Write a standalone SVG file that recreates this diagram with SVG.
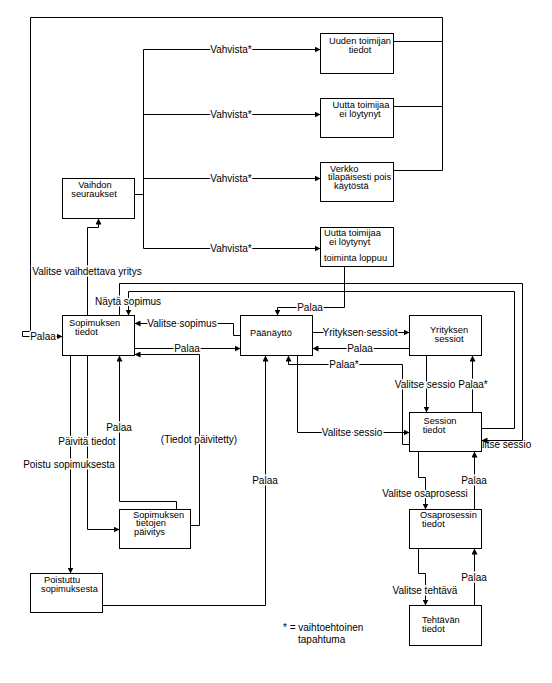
<svg xmlns="http://www.w3.org/2000/svg" width="552" height="683" viewBox="0 0 552 683">
<style>
.b{fill:#fff;stroke:#000;stroke-width:1}
.c{fill:none;stroke:#000;stroke-width:1}
text{font-family:"Liberation Sans",Arial,sans-serif;font-size:10px;fill:#000}
.n text{font-size:9.3px}
.l{text-anchor:middle;stroke:#fff;stroke-width:3;paint-order:stroke;stroke-linejoin:round}
.m{text-anchor:middle}
</style>
<defs>
<marker id="a" viewBox="0 0 10 10" refX="10" refY="5" markerWidth="6" markerHeight="6" markerUnits="userSpaceOnUse" orient="auto">
<path d="M0,0 L10,5 L0,10 z" fill="#000"/>
</marker>
</defs>
<rect width="552" height="683" fill="#fff"/>
<g id="connectors" transform="translate(0.5,0.5)">
<path class="c" d="M393,41 H442 M393,106 H442 M393,170 H442"/>
<path class="c" d="M442,170 V17 H30 V331 H22 V336 H62" marker-end="url(#a)"/>
<path class="c" d="M134,194 H143 M143,49 V248"/>
<path class="c" d="M143,49 H320" marker-end="url(#a)"/>
<path class="c" d="M143,114 H320" marker-end="url(#a)"/>
<path class="c" d="M143,178 H320" marker-end="url(#a)"/>
<path class="c" d="M143,248 H320" marker-end="url(#a)"/>
<path class="c" d="M87,315 V227 H98 V218" marker-end="url(#a)"/>
<path class="c" d="M481,428 H514 V291 H128 V315" marker-end="url(#a)"/>
<path class="c" d="M119,315 V283 H522 V440 H481" marker-end="url(#a)"/>
<path class="c" d="M240,335 H233 V323 H134" marker-end="url(#a)"/>
<path class="c" d="M134,348 H240" marker-end="url(#a)"/>
<path class="c" d="M190,525 H199 V354 H134" marker-end="url(#a)"/>
<path class="c" d="M176,509 V501 H119 V355" marker-end="url(#a)"/>
<path class="c" d="M87,355 V529 H119" marker-end="url(#a)"/>
<path class="c" d="M70,355 V573" marker-end="url(#a)"/>
<path class="c" d="M102,605 H265 V355" marker-end="url(#a)"/>
<path class="c" d="M344,266 V307 H277 V315" marker-end="url(#a)"/>
<path class="c" d="M312,332 H409" marker-end="url(#a)"/>
<path class="c" d="M409,348 H312" marker-end="url(#a)"/>
<path class="c" d="M409,444 H402 V364 H288 V355" marker-end="url(#a)"/>
<path class="c" d="M297,355 V432 H409" marker-end="url(#a)"/>
<path class="c" d="M426,355 V412" marker-end="url(#a)"/>
<path class="c" d="M472,412 V355" marker-end="url(#a)"/>
<path class="c" d="M418,451 V477 H425 V509" marker-end="url(#a)"/>
<path class="c" d="M474,509 V451" marker-end="url(#a)"/>
<path class="c" d="M418,548 V573 H425 V605" marker-end="url(#a)"/>
<path class="c" d="M474,605 V548" marker-end="url(#a)"/>
</g>
<g id="labels">
<text class="l" x="43" y="339.5">Palaa</text>
<text class="l" x="231" y="52.5">Vahvista*</text>
<text class="l" x="231" y="117.5">Vahvista*</text>
<text class="l" x="231" y="181.5">Vahvista*</text>
<text class="l" x="231" y="251.5">Vahvista*</text>
<text class="l" x="87" y="274.5">Valitse vaihdettava yritys</text>
<text class="l" x="128" y="305">Näytä sopimus</text>
<text class="m" x="501" y="448">Valitse sessio</text>
<text class="l" x="182" y="326.5">Valitse sopimus</text>
<text class="l" x="187" y="351.5">Palaa</text>
<text class="l" x="199" y="443">(Tiedot päivitetty)</text>
<text class="l" x="119" y="431">Palaa</text>
<text class="l" x="87" y="445">Päivitä tiedot</text>
<text class="l" x="69" y="468">Poistu sopimuksesta</text>
<text class="l" x="265" y="484">Palaa</text>
<text class="l" x="310" y="310.5">Palaa</text>
<text class="l" x="360" y="335.5">Yrityksen sessiot</text>
<text class="l" x="360" y="351.5">Palaa</text>
<text class="l" x="344" y="367.5">Palaa*</text>
<text class="l" x="352" y="435.5">Valitse sessio</text>
<text class="l" x="425" y="387.5">Valitse sessio</text>
<text class="l" x="473" y="387.5">Palaa*</text>
<text class="l" x="425" y="496.5">Valitse osaprosessi</text>
<text class="l" x="474" y="483.5">Palaa</text>
<text class="l" x="425" y="593.5">Valitse tehtävä</text>
<text class="l" x="474" y="580.5">Palaa</text>
</g>
<g class="n">
<g id="uuden-toimijan-tiedot">
<rect class="b" x="320.5" y="33.5" width="73" height="40"/>
<text class="m" x="360" y="43.5">Uuden toimijan</text>
<text class="m" x="360" y="52.5">tiedot</text>
</g>
<g id="uutta-toimijaa-ei-loytynyt">
<rect class="b" x="320.5" y="98.5" width="73" height="39"/>
<text class="m" x="361" y="107.5">Uutta toimijaa</text>
<text class="m" x="360" y="116.5">ei löytynyt</text>
</g>
<g id="verkko-pois-kaytosta">
<rect class="b" x="320.5" y="162.5" width="73" height="39"/>
<text x="330" y="171.5">Verkko</text>
<text x="328" y="180">tilapäisesti pois</text>
<text x="334" y="188.5">käytöstä</text>
</g>
<g id="toiminta-loppuu">
<rect class="b" x="320.5" y="227.5" width="73" height="39"/>
<text x="324" y="235.5">Uutta toimijaa</text>
<text x="329" y="244.5">ei löytynyt</text>
<text x="324" y="261">toiminta loppuu</text>
</g>
<g id="vaihdon-seuraukset">
<rect class="b" x="62.5" y="178.5" width="72" height="40"/>
<text class="m" x="95" y="187.5">Vaihdon</text>
<text class="m" x="94" y="197">seuraukset</text>
</g>
<g id="sopimuksen-tiedot">
<rect class="b" x="62.5" y="315.5" width="72" height="40"/>
<text x="69" y="325.5">Sopimuksen</text>
<text x="75" y="334.5">tiedot</text>
</g>
<g id="paanaytto">
<rect class="b" x="240.5" y="315.5" width="72" height="40"/>
<text x="250" y="336">Päänäyttö</text>
</g>
<g id="yrityksen-sessiot">
<rect class="b" x="409.5" y="315.5" width="72" height="40"/>
<text class="m" x="449" y="333">Yrityksen</text>
<text class="m" x="449" y="342">sessiot</text>
</g>
<g id="session-tiedot">
<rect class="b" x="409.5" y="412.5" width="72" height="39"/>
<text class="m" x="440" y="423.5">Session</text>
<text class="m" x="434" y="432.5">tiedot</text>
</g>
<g id="osaprosessin-tiedot">
<rect class="b" x="409.5" y="509.5" width="72" height="39"/>
<text x="420" y="517.5">Osaprosessin</text>
<text x="422" y="526.5">tiedot</text>
</g>
<g id="tehtavan-tiedot">
<rect class="b" x="409.5" y="605.5" width="72" height="40"/>
<text x="422" y="622.5">Tehtävän</text>
<text x="422" y="631.5">tiedot</text>
</g>
<g id="sopimuksen-tietojen-paivitys">
<rect class="b" x="119.5" y="509.5" width="71" height="39"/>
<text x="133" y="517.5">Sopimuksen</text>
<text x="136" y="526">tietojen</text>
<text x="134" y="534.5">päivitys</text>
</g>
<g id="poistuttu-sopimuksesta">
<rect class="b" x="30.5" y="573.5" width="72" height="39"/>
<text x="44" y="582.5">Poistuttu</text>
<text x="41" y="591.5">sopimuksesta</text>
</g>
</g>
<g id="legend">
<text x="283" y="631">* = vaihtoehtoinen</text>
<text x="298" y="643">tapahtuma</text>
</g>
</svg>
